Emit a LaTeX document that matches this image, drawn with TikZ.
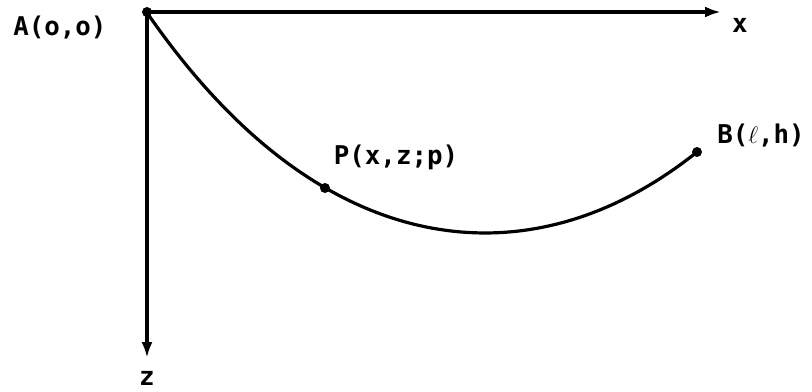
\documentclass[tikz,border=0pt]{standalone}
\usepackage{fontspec}
\setmainfont{DejaVu Sans Mono}
\usetikzlibrary{arrows.meta,positioning}

\begin{document}
\begin{tikzpicture}[
    x=0.5pt, y=-0.5pt,
    every node/.style={font=\fontsize{12.9}{15}\selectfont\bfseries},
    dot/.style={circle, fill, inner sep=0pt, minimum size=5pt},
    axis/.style={line width=1.7pt, -{Latex[length=8pt,width=5.5pt]}}
]
    \useasboundingbox (0,0) rectangle (812,391);

    % Points
    \node[dot] (A) at (147,12) {};
    \node[dot] (P) at (325,188) {};
    \node[dot] (B) at (697,152) {};
    \coordinate (xend) at (721,12);
    \coordinate (zend) at (147,358);

    % Axes
    \draw[axis] (A.center) -- (xend);
    \draw[axis] (A.center) -- (zend);
    \node (xlab) at (740,25) {x};
    \node (zlab) at (147,378) {z};

    % Curve
    \draw[line width=1.6pt, domain=147:697, samples=80]
        plot (\x, {233 - 290*(cosh((\x-485)/290)-1)});

    % Labels
    \node[left=14pt of A, yshift=-8pt] (Alab) {A(o,o)};
    \node (Plab) at (396,157) {P(x,z;p)};
    \node (Blab) at (761,136) {B($\ell$,h)};
\end{tikzpicture}
\end{document}
